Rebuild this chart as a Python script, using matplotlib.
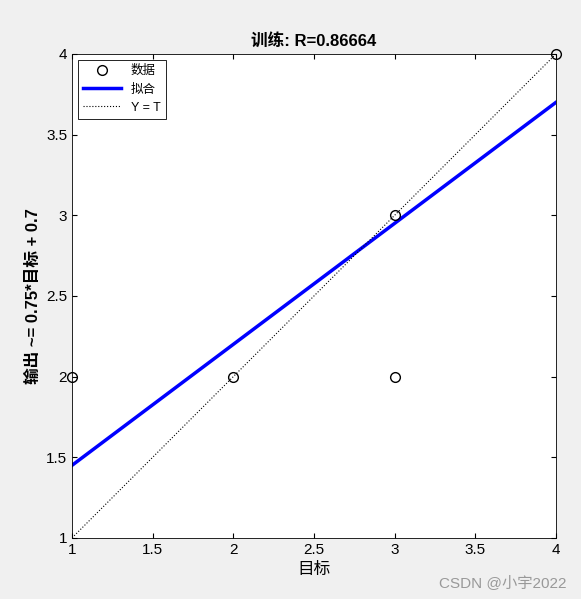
import matplotlib.pyplot as plt
import numpy as np

plt.rcParams['font.family'] = ['Liberation Sans', 'Noto Sans CJK SC', 'DejaVu Sans']

# данные
target = [1, 2, 3, 3, 4]
output = [2, 2, 3, 2, 4]
slope = 0.75
intercept = 0.7
r_value = 0.86664
ticks = [1, 1.5, 2, 2.5, 3, 3.5, 4]
tick_labels = ['1', '1.5', '2', '2.5', '3', '3.5', '4']

fig = plt.figure(figsize=(5.81, 5.99), dpi=100)
fig.patch.set_facecolor('#f0f0f0')
ax = fig.add_axes([0.124, 0.102, 0.833, 0.808])

xs = np.array([1, 4])
ax.plot(target, output, 'o', mfc='none', mec='black', ms=7, label='数据', clip_on=False, zorder=5)
ax.plot(xs, slope * xs + intercept, color='blue', lw=2.5, label='拟合')
ax.plot(xs, xs, ':', color='black', lw=0.8, label='Y = T')

ax.set_xlim(1, 4)
ax.set_ylim(1, 4)
ax.set_xticks(ticks, tick_labels)
ax.set_yticks(ticks, tick_labels)
ax.tick_params(direction='in', labelsize=11, top=True, right=True)
for s in ax.spines.values():
    s.set_linewidth(0.6)

ax.set_title(f'训练: R={r_value:.5f}', fontsize=12, fontweight='bold')
ax.set_xlabel('目标', fontsize=12)
ax.set_ylabel(f'输出 ~= {slope}*目标 + {intercept}', fontsize=12, fontweight='bold')

leg = ax.legend(loc='upper left', fontsize=9, fancybox=False, edgecolor='black',
                framealpha=1, handlelength=3)
leg.get_frame().set_linewidth(0.6)

fig.text(0.975, 0.015, 'CSDN @小宇2022', ha='right', va='bottom',
         fontsize=11, color='#999999')

fig.savefig('out.png', dpi=100, facecolor=fig.get_facecolor())
